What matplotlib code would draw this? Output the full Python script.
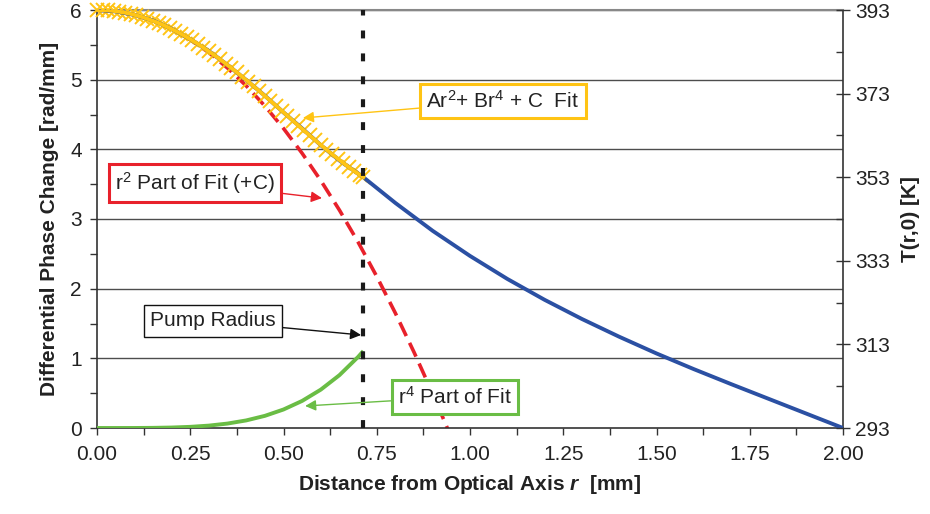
import matplotlib
matplotlib.use("Agg")
import matplotlib.pyplot as plt
from matplotlib.ticker import MultipleLocator, FixedLocator

plt.rcParams['font.family'] = ['Liberation Sans', 'DejaVu Sans']
plt.rcParams['mathtext.fontset'] = 'custom'
plt.rcParams['mathtext.rm'] = 'Liberation Sans'
plt.rcParams['mathtext.it'] = 'Liberation Sans:italic'
plt.rcParams['mathtext.bf'] = 'Liberation Sans:bold'
plt.rcParams['mathtext.bfit'] = 'Liberation Sans:bold:italic'

# ---- data ----
# total phase change profile (blue)
r_total = [0.0, 0.05, 0.1, 0.15, 0.2, 0.25, 0.3, 0.35, 0.4, 0.45, 0.5, 0.55, 0.6, 0.65, 0.714,
           0.8, 0.9, 1.0, 1.1, 1.2, 1.3, 1.4, 1.5, 1.6, 1.7, 1.8, 1.9, 2.0]
phase_total = [6.0, 5.98, 5.93, 5.85, 5.73, 5.58, 5.41, 5.21, 4.995, 4.77, 4.53, 4.30, 4.06, 3.84, 3.60,
               3.23, 2.83, 2.47, 2.14, 1.84, 1.565, 1.31, 1.07, 0.845, 0.63, 0.42, 0.21, 0.0]

# fit points Ar^2 + Br^4 + C (yellow)
r_fit = [0.0, 0.015, 0.03, 0.045, 0.06, 0.075, 0.09, 0.105, 0.12, 0.135, 0.15, 0.165, 0.18,
         0.195, 0.21, 0.225, 0.24, 0.255, 0.27, 0.285, 0.3, 0.315, 0.33, 0.345, 0.36, 0.375,
         0.39, 0.405, 0.42, 0.435, 0.45, 0.465, 0.48, 0.495, 0.51, 0.525, 0.54, 0.555, 0.57,
         0.585, 0.6, 0.615, 0.63, 0.645, 0.66, 0.675, 0.69, 0.705, 0.714]
phase_fit = [6.000, 5.998, 5.994, 5.986, 5.975, 5.961, 5.944, 5.923, 5.900, 5.874, 5.845, 5.813,
             5.778, 5.740, 5.700, 5.657, 5.612, 5.564, 5.514, 5.461, 5.406, 5.350, 5.291, 5.231,
             5.168, 5.105, 5.039, 4.973, 4.905, 4.837, 4.767, 4.697, 4.626, 4.555, 4.484, 4.412,
             4.341, 4.271, 4.201, 4.131, 4.063, 3.996, 3.931, 3.867, 3.805, 3.745, 3.687, 3.632, 3.601]

# r^2 part of fit (+C) (red dashed)
r_r2 = [0.0, 0.05, 0.1, 0.15, 0.2, 0.25, 0.3, 0.35, 0.4, 0.45, 0.5, 0.55, 0.6, 0.65, 0.7,
        0.75, 0.8, 0.85, 0.9, 0.95]
phase_r2 = [6.0, 5.983, 5.932, 5.847, 5.728, 5.575, 5.388, 5.167, 4.912, 4.623, 4.3, 3.943,
            3.552, 3.127, 2.668, 2.175, 1.648, 1.087, 0.492, -0.137]

# r^4 part of fit (green)
r_r4 = [0.0, 0.05, 0.1, 0.15, 0.2, 0.25, 0.3, 0.35, 0.4, 0.45, 0.5, 0.55, 0.6, 0.65, 0.7, 0.714]
phase_r4 = [0.0, 0.0, 0.0004, 0.0022, 0.0068, 0.0166, 0.0344, 0.0638, 0.1088, 0.1743, 0.2656,
            0.3889, 0.5508, 0.7587, 1.0204, 1.1045]

pump_radius = 0.714

x_ticks = [0.0, 0.25, 0.5, 0.75, 1.0, 1.25, 1.5, 1.75, 2.0]
x_ticklabels = ["0.00", "0.25", "0.50", "0.75", "1.00", "1.25", "1.50", "1.75", "2.00"]
y_ticks = [0, 1, 2, 3, 4, 5, 6]
t_ticks = [293, 313, 333, 353, 373, 393]

BLUE = '#2B50A3'
YELLOW = '#FFC414'
RED = '#E8212B'
GREEN = '#6ABD45'
FS = 15

fig = plt.figure(figsize=(9.3, 5.14), dpi=100)
ax = fig.add_axes([97/930, 86/514, 746/930, 418/514])
ax.set_xlim(0, 2)
ax.set_ylim(0, 6)

for yv in y_ticks[1:]:
    ax.axhline(yv, color='#4d4d4d', lw=1.0, zorder=1)

ax.plot(r_r2, phase_r2, color=RED, lw=2.6, linestyle=(0, (4.2, 2.1)), zorder=2.5)
ax.plot(r_fit, phase_fit, linestyle='none', marker='x', ms=10, mew=1.4, color=YELLOW,
        zorder=3, clip_on=False)
ax.plot(r_total, phase_total, color=BLUE, lw=2.8, zorder=4, solid_capstyle='butt')
ax.plot(r_fit, phase_fit, color=YELLOW, lw=2.8, zorder=5)
ax.plot(r_r4, phase_r4, color=GREEN, lw=2.8, zorder=5, solid_capstyle='butt')
ax.plot([pump_radius, pump_radius], [0, 6], color='#1a1a1a', lw=3.0,
        linestyle=(0, (1.9, 3.6)), zorder=7)

ax.set_xticks(x_ticks)
ax.set_xticklabels(x_ticklabels)
ax.xaxis.set_minor_locator(MultipleLocator(0.125))
ax.set_yticks(y_ticks)
ax.yaxis.set_minor_locator(MultipleLocator(0.5))
ax.tick_params(axis='both', which='both', direction='out', length=5, width=1, color='#333333',
               labelsize=FS, labelcolor='#222222')
ax.tick_params(axis='x', pad=7)
ax.tick_params(axis='y', pad=6)

for s in ['left', 'bottom', 'right']:
    ax.spines[s].set_color('#333333')
    ax.spines[s].set_linewidth(1.2)
ax.spines['top'].set_color('#888888')
ax.spines['top'].set_linewidth(1.5)

ax.set_xlabel(r'Distance from Optical Axis $\mathbfit{r}$  [mm]', fontsize=FS,
              fontweight='bold', color='#222222', labelpad=7)
ax.set_ylabel('Differential Phase Change [rad/mm]', fontsize=FS, fontweight='bold',
              color='#222222', labelpad=8)

ax2 = ax.twinx()
ax2.set_ylim(293, 393)
ax2.yaxis.set_major_locator(FixedLocator(t_ticks))
ax2.yaxis.set_minor_locator(FixedLocator([303, 323, 343, 363, 383]))
ax2.tick_params(axis='y', which='major', direction='inout', length=10, width=1, color='#333333',
                labelsize=FS, labelcolor='#222222', pad=4)
ax2.tick_params(axis='y', which='minor', direction='in', length=5, width=1, color='#333333')
for s in ax2.spines.values():
    s.set_visible(False)
ax2.set_ylabel('T(r,0) [K]', fontsize=FS, fontweight='bold', color='#222222', labelpad=8)

def px(x, y):
    return (x, 514 - y)

def note(text, xy, center, ec, lw):
    ax.annotate(text, xy=xy, xycoords='data', xytext=px(*center), textcoords='figure pixels',
                ha='center', va='center', fontsize=FS, color='#222222',
                bbox=dict(boxstyle='square,pad=0.3', fc='white', ec=ec, lw=lw),
                arrowprops=dict(arrowstyle='-|>', color=ec, lw=1.0, mutation_scale=16,
                                shrinkA=0, shrinkB=0), zorder=10)

note(r'Ar$^2$+ Br$^4$ + C  Fit', (0.552, 4.45), (503, 101), YELLOW, 2.2)
note(r'r$^2$ Part of Fit (+C)', (0.603, 3.30), (195, 183), RED, 2.2)
note('Pump Radius', (0.708, 1.335), (213, 321), '#111111', 1.0)
note(r'r$^4$ Part of Fit', (0.558, 0.316), (455, 397), GREEN, 2.2)

fig.savefig('out.png', dpi=100)
